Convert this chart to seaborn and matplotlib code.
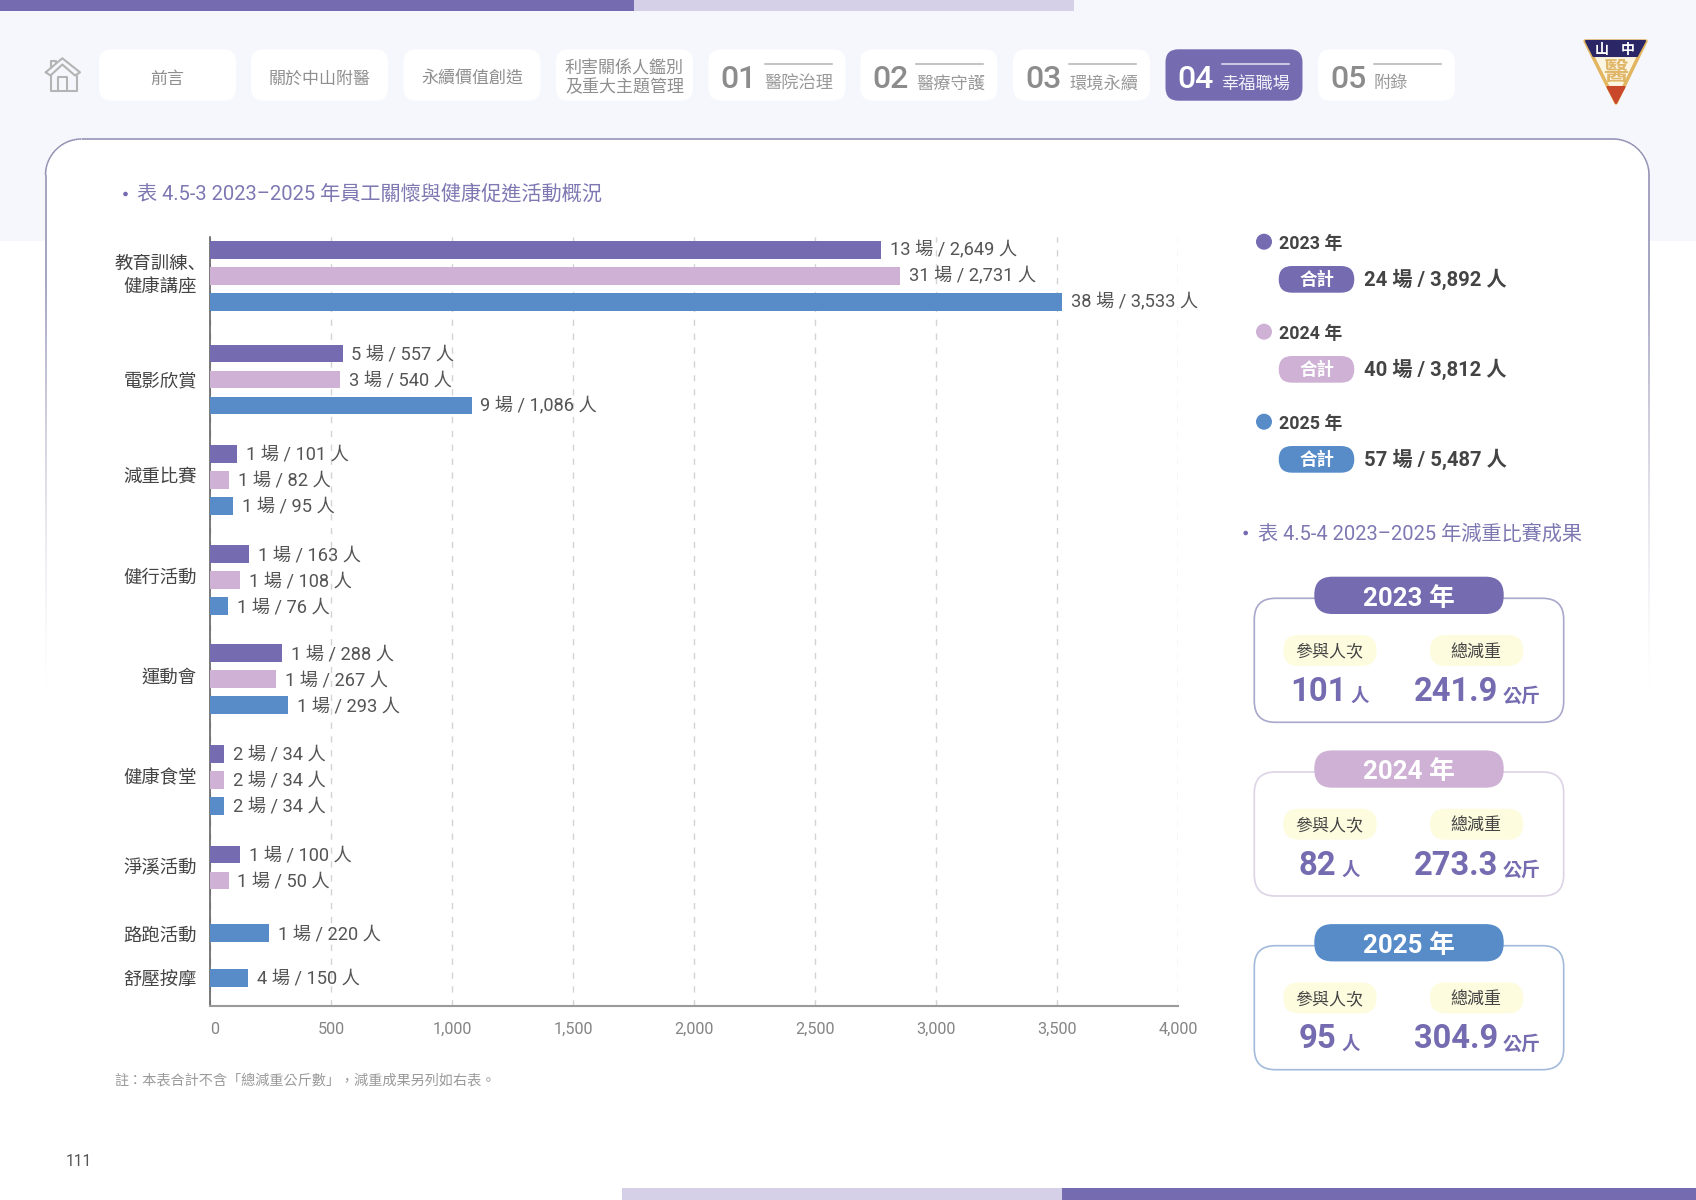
import numpy as np
import pandas as pd
import matplotlib
matplotlib.use("Agg")
import matplotlib.pyplot as plt
from matplotlib.collections import LineCollection
from matplotlib.patches import FancyBboxPatch, Polygon, Circle, Rectangle
from matplotlib.ticker import FuncFormatter
import seaborn as sns

# ---------- data ----------
categories = ["教育訓練、\n健康講座", "電影欣賞", "減重比賽", "健行活動", "運動會",
              "健康食堂", "淨溪活動", "路跑活動", "舒壓按摩"]
years = ["2023", "2024", "2025"]
bars_2023 = [2772, 547, 112, 162, 298, 58, 125, None, None]
bars_2024 = [2850, 536, 78, 122, 271, 58, 76, None, None]
bars_2025 = [3519, 1080, 95, 74, 320, 58, None, 243, 155]
labels_2023 = ["13 場 / 2,649 人", "5 場 / 557 人", "1 場 / 101 人", "1 場 / 163 人",
               "1 場 / 288 人", "2 場 / 34 人", "1 場 / 100 人", None, None]
labels_2024 = ["31 場 / 2,731 人", "3 場 / 540 人", "1 場 / 82 人", "1 場 / 108 人",
               "1 場 / 267 人", "2 場 / 34 人", "1 場 / 50 人", None, None]
labels_2025 = ["38 場 / 3,533 人", "9 場 / 1,086 人", "1 場 / 95 人", "1 場 / 76 人",
               "1 場 / 293 人", "2 場 / 34 人", None, "1 場 / 220 人", "4 場 / 150 人"]
xticks = [0, 500, 1000, 1500, 2000, 2500, 3000, 3500, 4000]
totals = ["24 場 / 3,892 人", "40 場 / 3,812 人", "57 場 / 5,487 人"]
participants = ["101", "82", "95"]
weight_loss = ["241.9", "273.3", "304.9"]
nav_plain = ["前言", "關於中山附醫", "永續價值創造", "利害關係人鑑別\n及重大主題管理"]
nav_nums = ["01", "02", "03", "04", "05"]
nav_names = ["醫院治理", "醫療守護", "環境永續", "幸福職場", "附錄"]

# ---------- style / layout (pixels of the 1696x1200 page) ----------
sns.set_theme(style="white")
plt.rcParams["font.family"] = ["Roboto", "Noto Sans CJK TC", "DejaVu Sans"]
PURPLE, PINK, BLUE = "#746BB0", "#CEB1D5", "#578CC8"
colors = [PURPLE, PINK, BLUE]
group_centers = [276, 379.5, 480, 580.3, 679.2, 779.8, 867.5, 933.2, 978]
label_centers = [274, 379.7, 475, 575.7, 676, 776.5, 866, 934, 979]
ROW = 26

fig = plt.figure(figsize=(16.96, 12), dpi=100, facecolor="white")
bg = fig.add_axes([0, 0, 1, 1])
bg.set_xlim(0, 1696)
bg.set_ylim(1200, 0)
bg.axis("off")


def T(x, y, s, px, color, weight="normal", ha="left", va="center", **kw):
    return bg.text(x, y, s, fontsize=px * 0.72, color=color, fontweight=weight,
                   ha=ha, va=va, **kw)


def RB(x0, y0, x1, y1, r, fc, ec="none", lw=0, z=1):
    p = FancyBboxPatch((x0, y0), x1 - x0, y1 - y0,
                       boxstyle=f"round,pad=0,rounding_size={r}",
                       fc=fc, ec=ec, lw=lw, zorder=z)
    bg.add_patch(p)
    return p


# page bands
bg.add_patch(Rectangle((0, 0), 1696, 240.5, fc="#F6F7FD", ec="none", zorder=0))
bg.add_patch(Rectangle((0, 0), 634, 11, fc=PURPLE, ec="none", zorder=1))
bg.add_patch(Rectangle((634, 0), 440, 11, fc="#D5CFE8", ec="none", zorder=1))
bg.add_patch(Rectangle((622, 1188), 440, 12, fc="#D5CFE8", ec="none", zorder=1))
bg.add_patch(Rectangle((1062, 1188), 634, 12, fc=PURPLE, ec="none", zorder=1))

# big card with fading border
CL, CR, CT, CB, CRAD = 45.5, 1649, 139, 694, 36
RB(CL, CT, CR, 320, CRAD, "white", z=0.5)
th = np.linspace(np.pi, 1.5 * np.pi, 30)
left_y = np.linspace(CB, CT + CRAD, 120)
px = np.r_[np.full(120, CL), CL + CRAD + CRAD * np.cos(th),
           CR - CRAD - CRAD * np.cos(th[::-1]), np.full(120, CR)]
py = np.r_[left_y, CT + CRAD + CRAD * np.sin(th),
           CT + CRAD + CRAD * np.sin(th[::-1]), left_y[::-1]]
pts = np.c_[px, py]
segs = np.stack([pts[:-1], pts[1:]], axis=1)
mid = (py[:-1] + py[1:]) / 2
alpha = np.clip((CB - mid) / (CB - 280), 0, 1) ** 1.5
rgba = np.tile(matplotlib.colors.to_rgba("#8C8BB0"), (len(segs), 1))
rgba[:, 3] = alpha
bg.add_collection(LineCollection(segs, colors=rgba, linewidths=1.1, zorder=1))

# home icon
ic = "#B4B4B4"
bg.plot([45.7, 62.3, 80, 75, 62.3, 50.5, 45.7], [72.3, 58.3, 72.3, 75.5, 64.5, 75.5, 72.3],
        color=ic, lw=1.5, zorder=2, solid_joinstyle="round")
bg.plot([50.5, 50.5, 76.7, 76.7], [75.5, 90.7, 90.7, 75.5], color=ic, lw=1.5, zorder=2)
bg.plot([58.3, 58.3, 67.3, 67.3], [90.7, 77.3, 77.3, 90.7], color=ic, lw=1.5, zorder=2)
bg.plot([50.5, 50.5, 56, 56], [68, 60.5, 60.5, 63], color=ic, lw=1.5, zorder=2)

# navigation
nav_x = [99, 251, 403.5, 556, 708.5, 860.4, 1013, 1165.5, 1318]
for i, x in enumerate(nav_x):
    active = i == 7
    RB(x, 49.3, x + 137, 100.7, 13, PURPLE if active else "white", z=2)
    if i < 4:
        y_txt = 77.4 if "\n" in nav_plain[i] else 78.8
        T(x + 68.5, y_txt, nav_plain[i], 17, "#8F8F8F", ha="center", zorder=3,
          linespacing=1.16, multialignment="center")
    else:
        j = i - 4
        c1 = "white" if active else "#8C8C8C"
        T(x + 30.3, 79.2, nav_nums[j], 32, c1, "medium", ha="center", zorder=3)
        bg.plot([x + 56, x + 123], [63.7, 63.7],
                color="#C9C6E3" if active else "#C4C4C4", lw=1.5, zorder=3)
        T(x + 56, 83.5, nav_names[j], 17.2, "#F2F1FA" if active else "#999999", zorder=3)

# logo
gold = "#E2B661"
bg.add_patch(Polygon([(1585, 41), (1646, 41), (1616, 103)], closed=True, fc="#FBF5E2",
                     ec=gold, lw=2.5, joinstyle="round", zorder=2))
bg.add_patch(Polygon([(1586, 41), (1645, 41), (1637, 56), (1593.5, 56)], closed=True,
                     fc="#2B2767", ec="#2B2767", lw=1.5, joinstyle="round", zorder=3))
bg.add_patch(Polygon([(1607.5, 87), (1624.5, 87), (1616, 103)], closed=True, fc="#C9472A",
                     ec="#C9472A", lw=1.5, joinstyle="round", zorder=3))
T(1602, 50, "山", 14, "white", "bold", ha="center", zorder=4)
T(1628, 50, "中", 14, "white", "bold", ha="center", zorder=4)
T(1615.5, 73.5, "醫", 25, "#E0B566", "bold", ha="center", zorder=4)

# headings
bg.add_patch(Circle((125.5, 194), 2.3, fc=PURPLE, ec="none", zorder=3))
T(137, 193.5, "表 4.5-3 2023–2025 年員工關懷與健康促進活動概況", 20.2, "#7D77B2", zorder=3)
bg.add_patch(Circle((1245.7, 533), 2.3, fc=PURPLE, ec="none", zorder=3))
T(1258, 533.5, "表 4.5-4 2023–2025 年減重比賽成果", 20.2, "#7D77B2", zorder=3)

# legend / totals
for i, (y0, col) in enumerate(zip(years, colors)):
    dy = 90 * i
    bg.add_patch(Circle((1264, 241.7 + dy), 8, fc=col, ec="none", zorder=3))
    T(1279.2, 243.7 + dy, f"{y0} 年", 17.9, "#444444", "bold", zorder=3)
    RB(1278.7, 266 + dy, 1354.3, 292.7 + dy, 13.3, col, z=3)
    T(1316.7, 279 + dy, "合計", 17.5, "white", "bold", ha="center", zorder=4)
    T(1364.2, 279.5 + dy, totals[i], 20.3, "#444444", "bold", zorder=3)

# weight-loss cards
edge = ["#A9A7CC", "#DDD3E6", "#A3BBDA"]
for i, (y0, col) in enumerate(zip(years, colors)):
    dy = 173.7 * i
    RB(1254.3, 598.3 + dy, 1563.7, 722.3 + dy, 21, "white", ec=edge[i], lw=1.2, z=2)
    RB(1314.3, 576.7 + dy, 1503.7, 614 + dy, 18, col, z=3)
    T(1408.7, 598.6 + dy, f"{y0} 年", 25.9, "white", "bold", ha="center", zorder=4)
    RB(1283.3, 635 + dy, 1376.7, 666 + dy, 15.5, "#FEFCDF", z=3)
    RB(1430, 635 + dy, 1523.3, 666 + dy, 15.5, "#FEFCDF", z=3)
    T(1329.3, 651.6 + dy, "參與人次", 17, "#444444", ha="center", zorder=4)
    T(1476, 651.6 + dy, "總減重", 17, "#444444", ha="center", zorder=4)
    left = 1289.8 if i == 0 else 1299
    T(left, 701 + dy, participants[i], 32.9, PURPLE, "bold", va="baseline", zorder=4)
    T(1350 if i == 0 else 1341, 702 + dy, "人", 18.4, PURPLE, "bold", va="baseline", zorder=4)
    T(1414, 701 + dy, weight_loss[i], 32.6, PURPLE, "bold", va="baseline", zorder=4)
    T(1502.5, 702 + dy, "公斤", 19, PURPLE, "bold", va="baseline", zorder=4)

# notes
T(114.6, 1081, "註：本表合計不含「總減重公斤數」，減重成果另列如右表。",
  14.15, "#9A9A9A", zorder=3)
T(65.3, 1162, "111", 15.5, "#555555", zorder=3)

# ---------- chart ----------
series_bars = [bars_2023, bars_2024, bars_2025]
series_labels = [labels_2023, labels_2024, labels_2025]
rows = []
for g, cat in enumerate(categories):
    present = [k for k in range(3) if series_bars[k][g] is not None]
    n = len(present)
    for pos, k in enumerate(present):
        rows.append({"category": cat, "year": years[k], "value": series_bars[k][g],
                     "label": series_labels[k][g],
                     "ypos": group_centers[g] + (pos - (n - 1) / 2) * ROW})
df = pd.DataFrame(rows)

AX_L, AX_R, AX_T, AX_B = 210.2, 1178, 237, 1005.7
ax = fig.add_axes([AX_L / 1696, 1 - AX_B / 1200, (AX_R - AX_L) / 1696, (AX_B - AX_T) / 1200])
ax.patch.set_alpha(0)
sns.barplot(data=df, x="value", y="ypos", hue="year", hue_order=years,
            palette=dict(zip(years, colors)), orient="y", native_scale=True,
            dodge=False, width=17.7 / ROW, saturation=1, legend=False, ax=ax,
            linewidth=0, zorder=3)
ax.set_xlim(0, 4000)
ax.set_ylim(AX_B, AX_T)
ax.set_xlabel("")
ax.set_ylabel("")
ax.set_axisbelow(True)
ax.xaxis.grid(True, color="#D3D3D3", lw=1, linestyle=(0, (4.5, 5.5)), zorder=1)
ax.yaxis.grid(False)
ax.set_xticks(xticks)
ax.xaxis.set_major_formatter(FuncFormatter(lambda v, _: f"{int(v):,}"))
ax.set_yticks(label_centers)
# the first, two-line label has a tight 、 and is set as two separate lines below
ax.set_yticklabels([""] + categories[1:])
ax.tick_params(axis="y", length=0, pad=9.7, labelsize=18.4 * 0.72, labelcolor="#444444")
ax.tick_params(axis="x", length=0, pad=11.8, labelsize=16.2 * 0.72, labelcolor="#858585")
ax.get_xticklabels()[0].set_ha("left")
line1, line2 = categories[0].split("\n")
T(207, 263.5, line1, 18.4, "#444444", ha="right", zorder=3,
  family=["Noto Sans CJK JP", "DejaVu Sans"])
T(196.5, 288, line2, 18.4, "#444444", ha="right", zorder=3)
for s in ("top", "right"):
    ax.spines[s].set_visible(False)
ax.spines["left"].set_color("#555555")
ax.spines["left"].set_linewidth(1.1)
ax.spines["bottom"].set_color("#9A9A9A")
ax.spines["bottom"].set_linewidth(1.5)
for _, r in df.iterrows():
    ax.annotate(r["label"], (r["value"], r["ypos"]), xytext=(6.4, -0.6),
                textcoords="offset points", va="center", ha="left",
                fontsize=18.3 * 0.72, color="#555555", zorder=5)

fig.savefig("out.png", dpi=100, facecolor="white")
